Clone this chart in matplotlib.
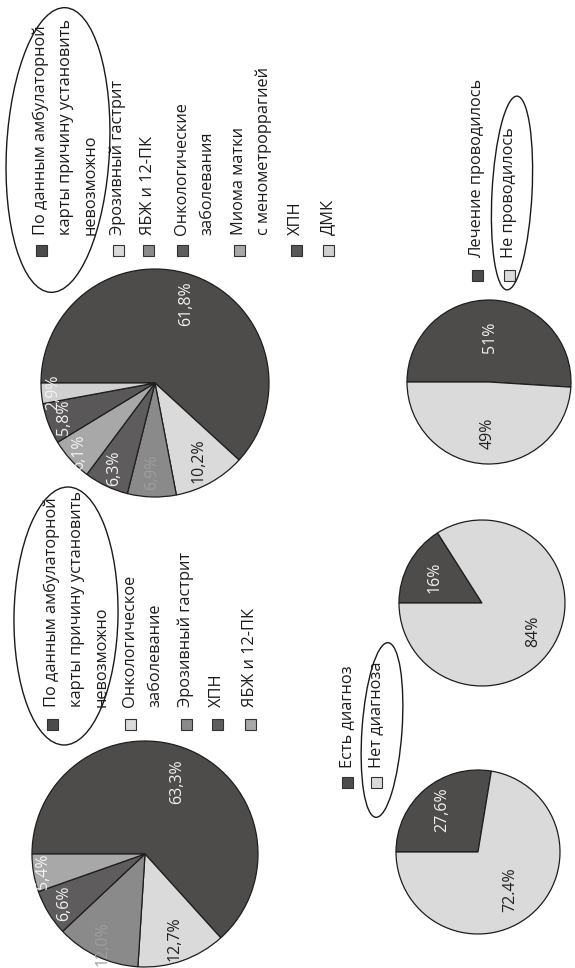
import numpy as np
import matplotlib.pyplot as plt
from matplotlib.patches import Ellipse, Rectangle

plt.rcParams['font.family'] = ['Open Sans', 'DejaVu Sans']

W, H = 575, 968

DARK = '#4e4b4b'
LIGHT = '#dadada'
MID = '#8a8a8a'
DEEP = '#5e5c5c'
PALE = '#a8a8a8'

# причины кровотечения, группа 1
causes_1 = ["По данным амбулаторной\nкарты причину установить\nневозможно",
            "Онкологическое\nзаболевание", "Эрозивный гастрит", "ХПН", "ЯБЖ и 12-ПК"]
share_1 = [63.3, 12.7, 12.0, 6.6, 5.4]
pct_1 = ["63,3%", "12,7%", "12,0%", "6,6%", "5,4%"]
colors_1 = [DARK, LIGHT, MID, DEEP, PALE]

# причины кровотечения, группа 2
causes_2 = ["По данным амбулаторной\nкарты причину установить\nневозможно",
            "Эрозивный гастрит", "ЯБЖ и 12-ПК", "Онкологические\nзаболевания",
            "Миома матки\nс менометроррагией", "ХПН", "ДМК"]
share_2 = [61.8, 10.2, 6.9, 6.3, 6.1, 5.8, 2.9]
pct_2 = ["61,8%", "10,2%", "6,9%", "6,3%", "6,1%", "5,8%", "2,9%"]
colors_2 = [DARK, LIGHT, MID, DEEP, PALE, '#595757', '#d0d0d0']

# наличие диагноза
diag = ["Есть диагноз", "Нет диагноза"]
diag_a = [27.6, 72.4]
diag_a_pct = ["27,6%", "72.4%"]
diag_b = [16, 84]
diag_b_pct = ["16%", "84%"]

# лечение
treat = ["Лечение проводилось", "Не проводилось"]
treat_share = [51, 49]
treat_pct = ["51%", "49%"]

fig = plt.figure(figsize=(5.75, 9.68), dpi=100)
ax = fig.add_axes([0, 0, 1, 1])


def draw_pie(vals, colors, texts, tcolors, dists, cx, cy, r):
    wedges, _ = ax.pie(vals, colors=colors, startangle=180, counterclock=False,
                       center=(cx, H - cy), radius=r,
                       wedgeprops=dict(edgecolor='#1e1e1e', linewidth=0.9))
    for w, t, c, d in zip(wedges, texts, tcolors, dists):
        mid = np.deg2rad((w.theta1 + w.theta2) / 2)
        ax.text(cx + d * r * np.cos(mid), H - cy + d * r * np.sin(mid), t,
                rotation=90, rotation_mode='anchor', ha='center', va='center',
                color=c, fontsize=11.5)


def draw_legend(items, colors, xs, y0, gap=17, step=25, size=11):
    for it, c, x in zip(items, colors, xs):
        ax.add_patch(Rectangle((x - size / 2, H - y0 - size / 2), size, size,
                               fc=c, ec='#333333', lw=0.8))
        for k, line in enumerate(it.split('\n')):
            ax.text(x + k * step, H - y0 + gap, line, rotation=90,
                    rotation_mode='anchor', ha='left', va='center',
                    color='#1c1c1c', fontsize=11.8)


def ring(cx, cy, w, h, ang):
    ax.add_patch(Ellipse((cx, H - cy), w, h, angle=ang, fill=False,
                         ec='#1a1a1a', lw=1.0))


draw_pie(share_1, colors_1, pct_1,
         ['#f2f2f2', '#222222', '#9c9c9c', '#f2f2f2', '#f2f2f2'],
         [0.7, 0.79, 0.88, 0.84, 0.92], 145, 854, 113)
draw_legend(causes_1, colors_1, [52, 130, 186, 217, 250], 724)
ring(66, 616, 104, 258, -1)

draw_pie(share_2, colors_2, pct_2,
         ['#f2f2f2', '#222222', '#9c9c9c', '#f2f2f2', '#f2f2f2', '#f2f2f2', '#f2f2f2'],
         [0.75, 0.78, 0.78, 0.83, 0.9, 0.85, 0.9], 155, 383, 114)
draw_legend(causes_2, colors_2, [41, 118, 148, 182, 239, 296, 328], 250, gap=15)
ring(58, 150, 103, 285, -3)

draw_pie(diag_a, [DARK, LIGHT], diag_a_pct, ['#f2f2f2', '#222222'],
         [0.67, 0.6], 478, 852, 82)
draw_legend(diag, [DARK, LIGHT], [347, 376], 782, gap=14)
ring(382, 730, 40, 175, -4)

draw_pie(diag_b, [DARK, LIGHT], diag_b_pct, ['#f2f2f2', '#222222'],
         [0.65, 0.7], 482, 603, 83)

draw_pie(treat_share, [DARK, LIGHT], treat_pct, ['#f2f2f2', '#222222'],
         [0.55, 0.62], 489, 382, 82)
draw_legend(treat, [DARK, LIGHT], [477, 509], 275, gap=17)
ring(512, 193, 40, 194, -3)

ax.set_xlim(0, W)
ax.set_ylim(0, H)
ax.set_aspect('equal')
ax.axis('off')

fig.savefig('out.png', dpi=100, facecolor='white')
